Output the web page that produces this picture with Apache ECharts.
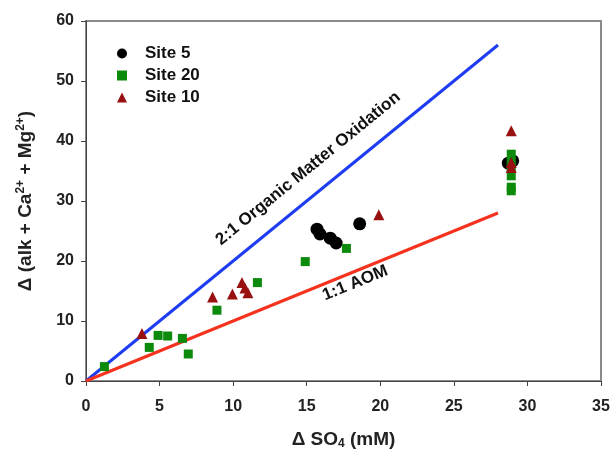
<!DOCTYPE html>
<html><head><meta charset="utf-8">
<script src="https://cdn.jsdelivr.net/npm/echarts@6/dist/echarts.min.js"></script>
<style>html,body{margin:0;padding:0;background:#fff}#c{width:613px;height:450px}</style>
</head><body><div id="c"></div>
<script>
const site5 = [[15.7,25.3],[15.9,24.5],[16.6,23.8],[17.0,23.0],[18.6,26.2],[28.7,36.3],[29.0,36.7]];
const site20 = [[1.25,2.4],[4.3,5.6],[4.9,7.6],[5.55,7.5],[6.55,7.1],[6.95,4.5],[8.9,11.8],[11.65,16.4],[14.9,19.9],[17.7,22.1],
  [28.9,37.8],[28.9,36.6],[28.9,35.4],[28.9,34.2],[28.9,32.3],[28.9,31.7]];
const site10 = [[3.8,7.9],[8.6,14.0],[9.95,14.5],[10.6,16.4],[10.8,15.5],[11.0,14.7],[19.9,27.7],[28.9,41.7],[28.9,36.4],[28.9,35.6]];
const line21 = [[0,0],[28,56]];
const line11 = [[0,0],[28,28]];
const xTicks = {min:0,max:35,interval:5};
const yTicks = {min:0,max:60,interval:10};
const label21 = {text:'2:1 Organic Matter Oxidation', at:[15.1,35.4]};
const label11 = {text:'1:1 AOM', at:[18.3,16.3]};

const FONT = 'Liberation Sans';
const chart = echarts.init(document.getElementById('c'));
const option = {
  animation:false,
  grid:{left:86,right:12,top:21,bottom:69,show:true,borderColor:'#8a8a8a',borderWidth:2,outerBoundsMode:'none',containLabel:false},
  legend:{orient:'vertical',left:112,top:40,itemGap:5,itemWidth:10,itemHeight:10,
    textStyle:{fontFamily:FONT,fontWeight:'bold',fontSize:17,color:'#111',padding:[0,0,0,13]},
    data:['Site 5','Site 20','Site 10']},
  xAxis:{type:'value',min:xTicks.min,max:xTicks.max,interval:xTicks.interval,
    axisLine:{lineStyle:{color:'#444',width:1}},axisTick:{length:5,lineStyle:{color:'#444'}},
    splitLine:{show:false},
    axisLabel:{fontFamily:FONT,fontWeight:'bold',fontSize:16,color:'#222',margin:18},
    name:'{a|Δ SO}{s|4}{a| (mM)}',nameLocation:'middle',nameGap:48,
    nameTextStyle:{rich:{a:{fontFamily:FONT,fontWeight:'bold',fontSize:19,color:'#222'},
      s:{fontFamily:FONT,fontWeight:'bold',fontSize:12,color:'#222',verticalAlign:'bottom',padding:[9,0,0,0]}}}},
  yAxis:{type:'value',min:yTicks.min,max:yTicks.max,interval:yTicks.interval,
    axisLine:{show:true,lineStyle:{color:'#444',width:1}},axisTick:{show:true,length:5,lineStyle:{color:'#444'}},
    splitLine:{show:false},
    axisLabel:{fontFamily:FONT,fontWeight:'bold',fontSize:16,color:'#222',margin:12},
    name:'{a|Δ (alk + Ca}{s|2+}{a| + Mg}{s|2+}{a|)}',nameLocation:'middle',nameGap:50,nameRotate:90,
    nameTextStyle:{rich:{a:{fontFamily:FONT,fontWeight:'bold',fontSize:19,color:'#222'},
      s:{fontFamily:FONT,fontWeight:'bold',fontSize:12,color:'#222',verticalAlign:'top',padding:[0,0,9,0]}}}},
  series:[
    {type:'line',data:line21,symbol:'none',lineStyle:{color:'#1e3cf0',width:3},silent:true,z:1},
    {type:'line',data:line11,symbol:'none',lineStyle:{color:'#f5321e',width:3},silent:true,z:1},
    {name:'Site 5',type:'scatter',data:site5,symbol:'circle',symbolSize:13,itemStyle:{color:'#000',opacity:1},z:3},
    {name:'Site 20',type:'scatter',data:site20,symbol:'rect',symbolSize:9,itemStyle:{color:'#0c8a0c',opacity:1},z:4},
    {name:'Site 10',type:'scatter',data:site10,symbol:'triangle',symbolSize:11,itemStyle:{color:'#991010',opacity:1},z:5}
  ]
};
chart.setOption(option);
function ang(p){const a=chart.convertToPixel({gridIndex:0},p[0]);const b=chart.convertToPixel({gridIndex:0},p[1]);return Math.atan2(a[1]-b[1],b[0]-a[0]);}
const p21=chart.convertToPixel({gridIndex:0},label21.at);
const p11=chart.convertToPixel({gridIndex:0},label11.at);
chart.setOption({graphic:[
  {type:'text',x:p21[0],y:p21[1],rotation:ang(line21),z:10,
   style:{text:label21.text,fontFamily:FONT,fontWeight:'bold',fontSize:17,fill:'#111',align:'center',verticalAlign:'middle'}},
  {type:'text',x:p11[0],y:p11[1],rotation:ang(line11),z:10,
   style:{text:label11.text,fontFamily:FONT,fontWeight:'bold',fontSize:17,fill:'#111',align:'center',verticalAlign:'middle'}}
]});
</script></body></html>
